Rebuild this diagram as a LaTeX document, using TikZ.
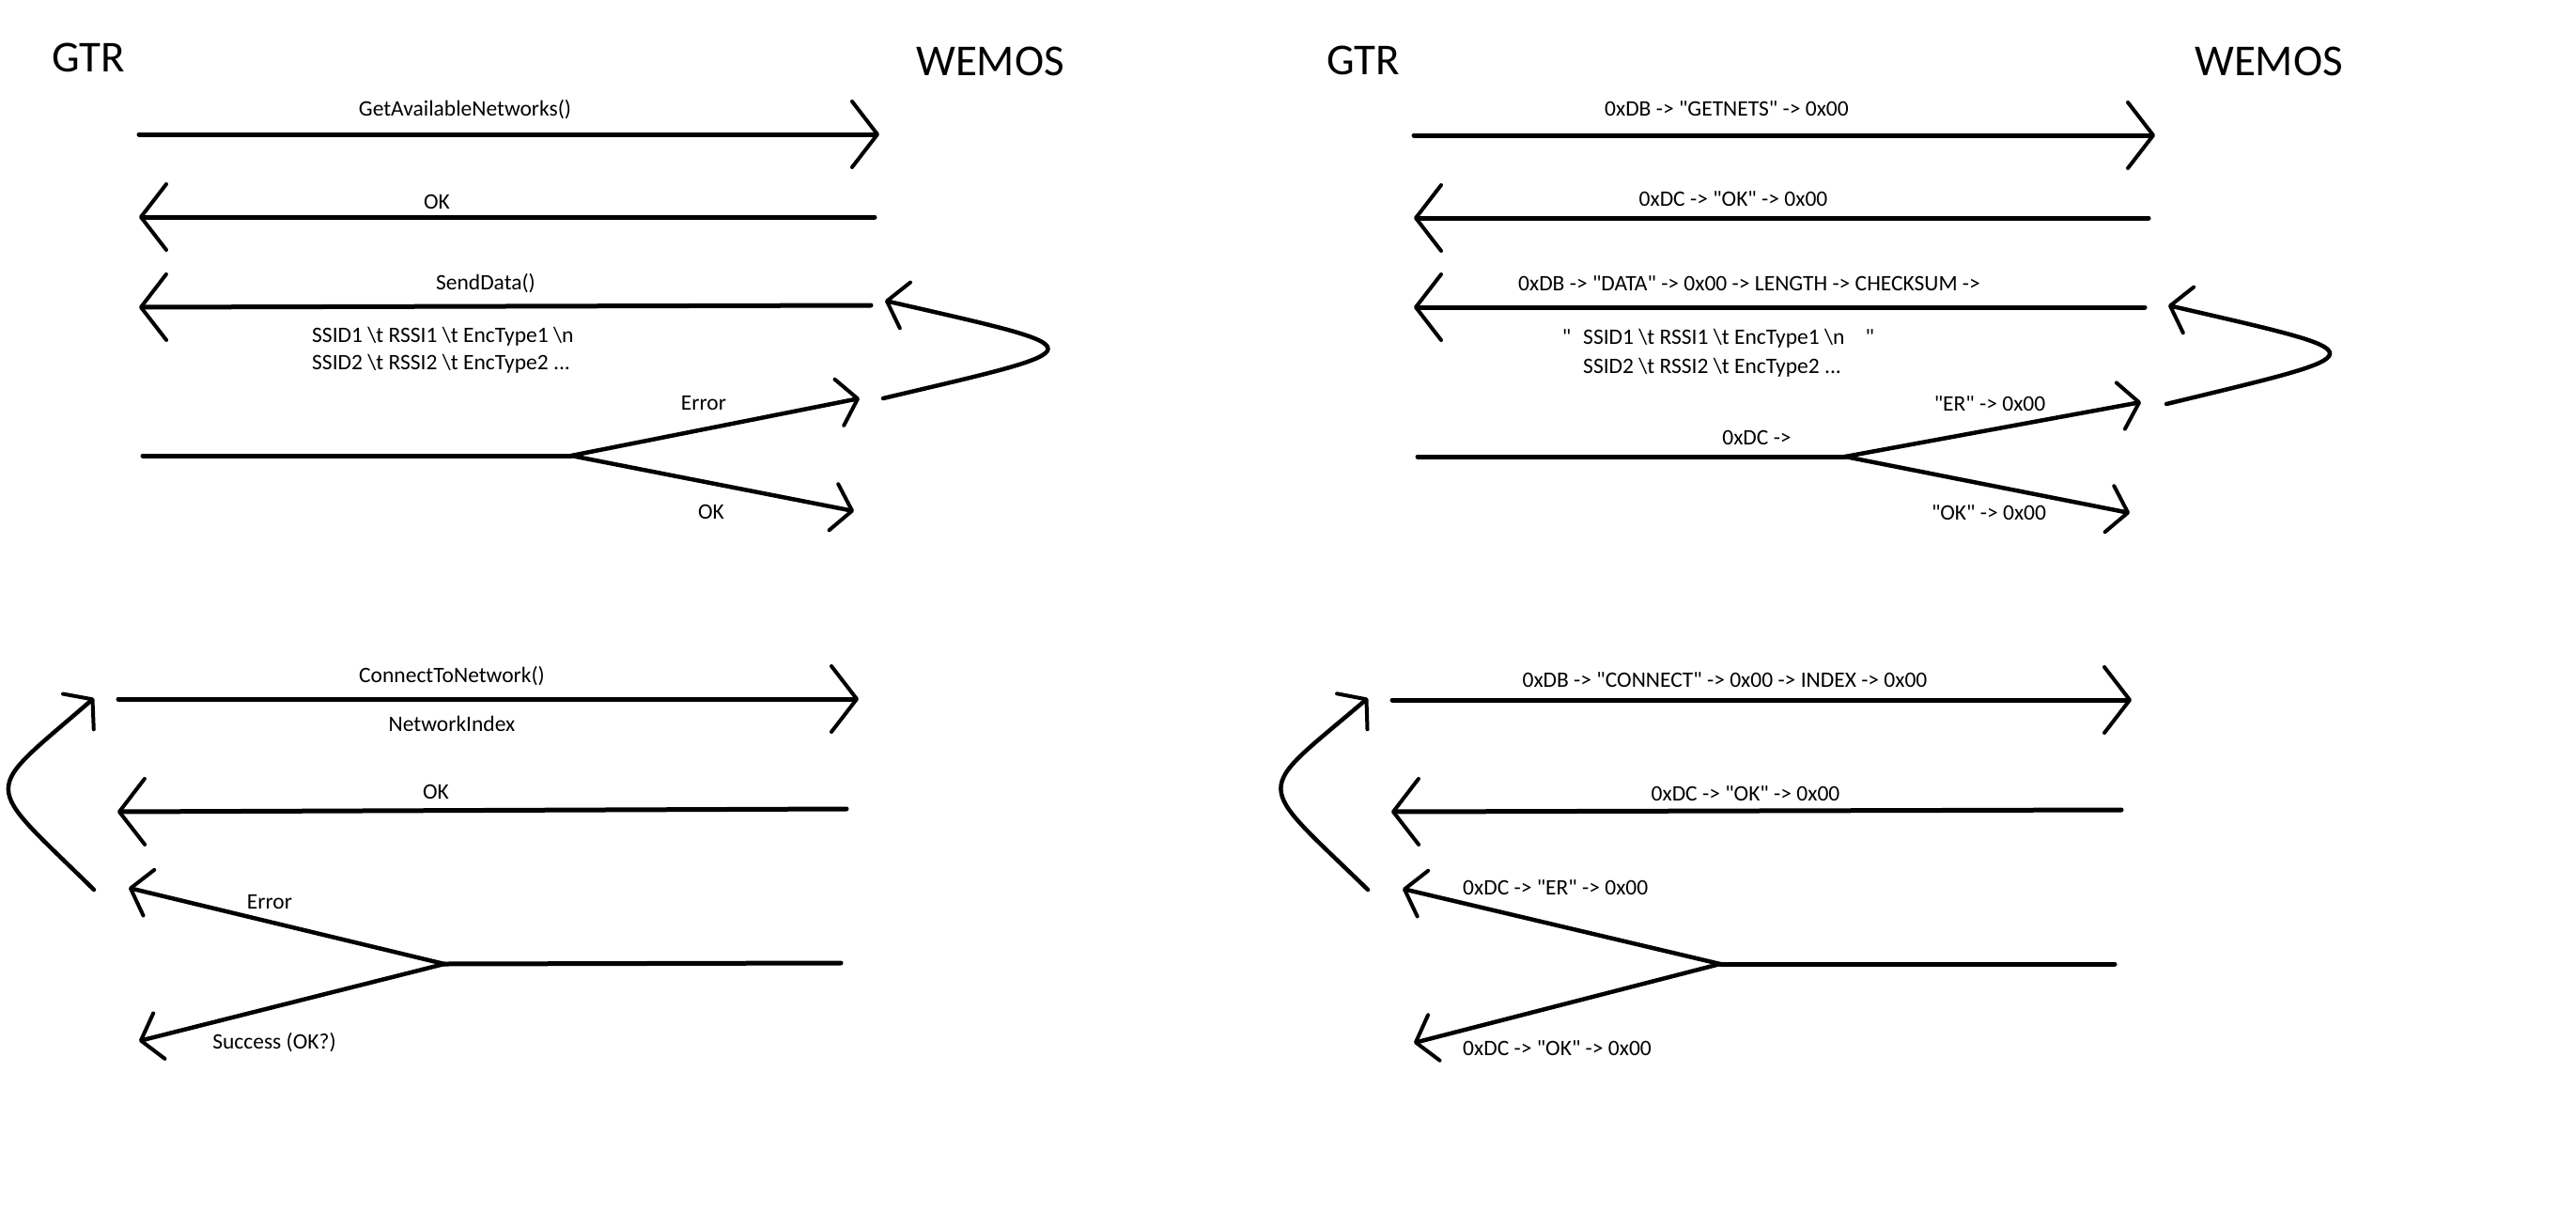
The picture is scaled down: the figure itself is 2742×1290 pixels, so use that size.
\documentclass[tikz,border=0pt]{standalone}
\usepackage{fontspec}
\newfontfamily\calib{Carlito}
\usetikzlibrary{arrows.meta}
\newcommand{\sendmsg}[2]{%
  \draw[msg] (#1) -- (#2)}
\newcommand{\forkmsg}[4]{%
  \draw[wire] (#1) -- (#2);
  \draw[fork] (#2) -- (#3);
  \draw[fork] (#2) -- (#4)}
\newcommand{\retrymsg}[4]{%
  \draw[fork] (#1) .. controls (#2) and (#3) .. (#4)}
\newcommand{\bs}{\textbackslash}

\begin{document}
\begin{tikzpicture}[x=1pt, y=-1pt,
    wire/.style={line width=5pt, line cap=round},
    msg/.style={wire, -{Straight Barb[length=27pt, width=70pt, line width=4pt, round]}},
    fork/.style={line width=4.5pt, line cap=round,
      -{Straight Barb[length=20pt, width=50pt, line width=4pt, round]}},
    lbl/.style={anchor=base, inner sep=0pt, font=\calib\fontsize{23.5}{29}\selectfont},
    party/.style={anchor=base west, inner sep=0pt, font=\calib\fontsize{47}{56}\selectfont}]
  \useasboundingbox (0,0) rectangle (2742,1290);

  % function calls
  \node[party] (gtra) at (55,77) {GTR};
  \node[party] (wemosa) at (975,81) {WEMOS};

  \coordinate (geta) at (148,143);   \coordinate (getb) at (936,143);
  \coordinate (oka) at (931,231);    \coordinate (okb) at (148,231);
  \coordinate (senda) at (927,325);  \coordinate (sendb) at (148,327);
  \coordinate (chka) at (152,485);   \coordinate (chkb) at (608,485);
  \coordinate (chkerr) at (915,424); \coordinate (chkok) at (909,544);
  \coordinate (againa) at (940,424); \coordinate (againb) at (942,320);

  \node[lbl] (getl) at (495,123) {GetAvailableNetworks()};
  \node[lbl] (okl) at (465,222) {OK};
  \node[lbl] (sendl) at (517,308) {SendData()};
  \node[lbl, anchor=base west] (ssida) at (332,364) {SSID1 \bs t RSSI1 \bs t EncType1 \bs n};
  \node[lbl, anchor=base west] (ssidb) at (332,393) {SSID2 \bs t RSSI2 \bs t EncType2 ...};
  \node[lbl] (errl) at (749,436) {Error};
  \node[lbl] (chkl) at (757,552) {OK};

  \sendmsg{geta}{getb};
  \sendmsg{oka}{okb};
  \sendmsg{senda}{sendb};
  \forkmsg{chka}{chkb}{chkerr}{chkok};
  \retrymsg{againa}{1173,369}{1173,373}{againb};

  % bytes on the wire
  \node[party] (gtrb) at (1412,79) {GTR};
  \node[party] (wemosb) at (2336,81) {WEMOS};

  \coordinate (nets) at (1505,144);   \coordinate (netsb) at (2294,144);
  \coordinate (ack) at (2287,232);    \coordinate (ackb) at (1505,232);
  \coordinate (pkt) at (2283,327);    \coordinate (pktb) at (1505,327);
  \coordinate (rsp) at (1509,486);    \coordinate (rspb) at (1964,486);
  \coordinate (rsperr) at (2279,428); \coordinate (rspok) at (2267,546);
  \coordinate (resend) at (2306,430); \coordinate (resendb) at (2308,325);

  \node[lbl] (netsl) at (1838,123) {0xDB -> "GETNETS" -> 0x00};
  \node[lbl] (ackl) at (1845,219) {0xDC -> "OK" -> 0x00};
  \node[lbl] (pktl) at (1862,309) {0xDB -> "DATA" -> 0x00 -> LENGTH -> CHECKSUM ->};
  \node[lbl, anchor=base west] (pkta) at (1685,366)
    {\llap{"\hspace{13pt}}SSID1 \bs t RSSI1 \bs t EncType1 \bs n\hspace{22pt}"};
  \node[lbl, anchor=base west] (pktb2) at (1685,397) {SSID2 \bs t RSSI2 \bs t EncType2 ...};
  \node[lbl] (rspl) at (1870,473) {0xDC ->};
  \node[lbl] (rsperrl) at (2118,437) {"ER" -> 0x00};
  \node[lbl] (rspokl) at (2117,553) {"OK" -> 0x00};

  \sendmsg{nets}{netsb};
  \sendmsg{ack}{ackb};
  \sendmsg{pkt}{pktb};
  \forkmsg{rsp}{rspb}{rsperr}{rspok};
  \retrymsg{resend}{2537,374}{2537,378}{resendb};

  % connect, function calls
  \coordinate (conn) at (126,744);    \coordinate (connb) at (914,744);
  \coordinate (conok) at (901,861);   \coordinate (conokb) at (125,864);
  \coordinate (res) at (895,1025);    \coordinate (resb) at (473,1026);
  \coordinate (reserr) at (137,945);  \coordinate (resok) at (148,1108);
  \coordinate (retry) at (100,947);   \coordinate (retryb) at (100,743);

  \node[lbl] (connl) at (481,726) {ConnectToNetwork()};
  \node[lbl] (idxl) at (481,778) {NetworkIndex};
  \node[lbl] (conokl) at (464,850) {OK};
  \node[lbl] (reserrl) at (287,967) {Error};
  \node[lbl] (resokl) at (292,1116) {Success (OK?)};

  \sendmsg{conn}{connb};
  \sendmsg{conok}{conokb};
  \forkmsg{res}{resb}{reserr}{resok};
  \retrymsg{retry}{-21,828}{-21,848}{retryb};

  % connect, bytes on the wire
  \coordinate (cmd) at (1482,745);    \coordinate (cmdb) at (2269,745);
  \coordinate (cmdok) at (2258,862);  \coordinate (cmdokb) at (1481,864);
  \coordinate (ans) at (2251,1026);   \coordinate (ansb) at (1831,1026);
  \coordinate (anserr) at (1493,946); \coordinate (ansok) at (1505,1110);
  \coordinate (redo) at (1456,947);   \coordinate (redob) at (1456,743);

  \node[lbl] (cmdl) at (1836,731) {0xDB -> "CONNECT" -> 0x00 -> INDEX -> 0x00};
  \node[lbl] (cmdokl) at (1858,852) {0xDC -> "OK" -> 0x00};
  \node[lbl, anchor=base west] (anserrl) at (1557,952) {0xDC -> "ER" -> 0x00};
  \node[lbl, anchor=base west] (ansokl) at (1557,1123) {0xDC -> "OK" -> 0x00};

  \sendmsg{cmd}{cmdb};
  \sendmsg{cmdok}{cmdokb};
  \forkmsg{ans}{ansb}{anserr}{ansok};
  \retrymsg{redo}{1333,827}{1333,848}{redob};
\end{tikzpicture}
\end{document}
